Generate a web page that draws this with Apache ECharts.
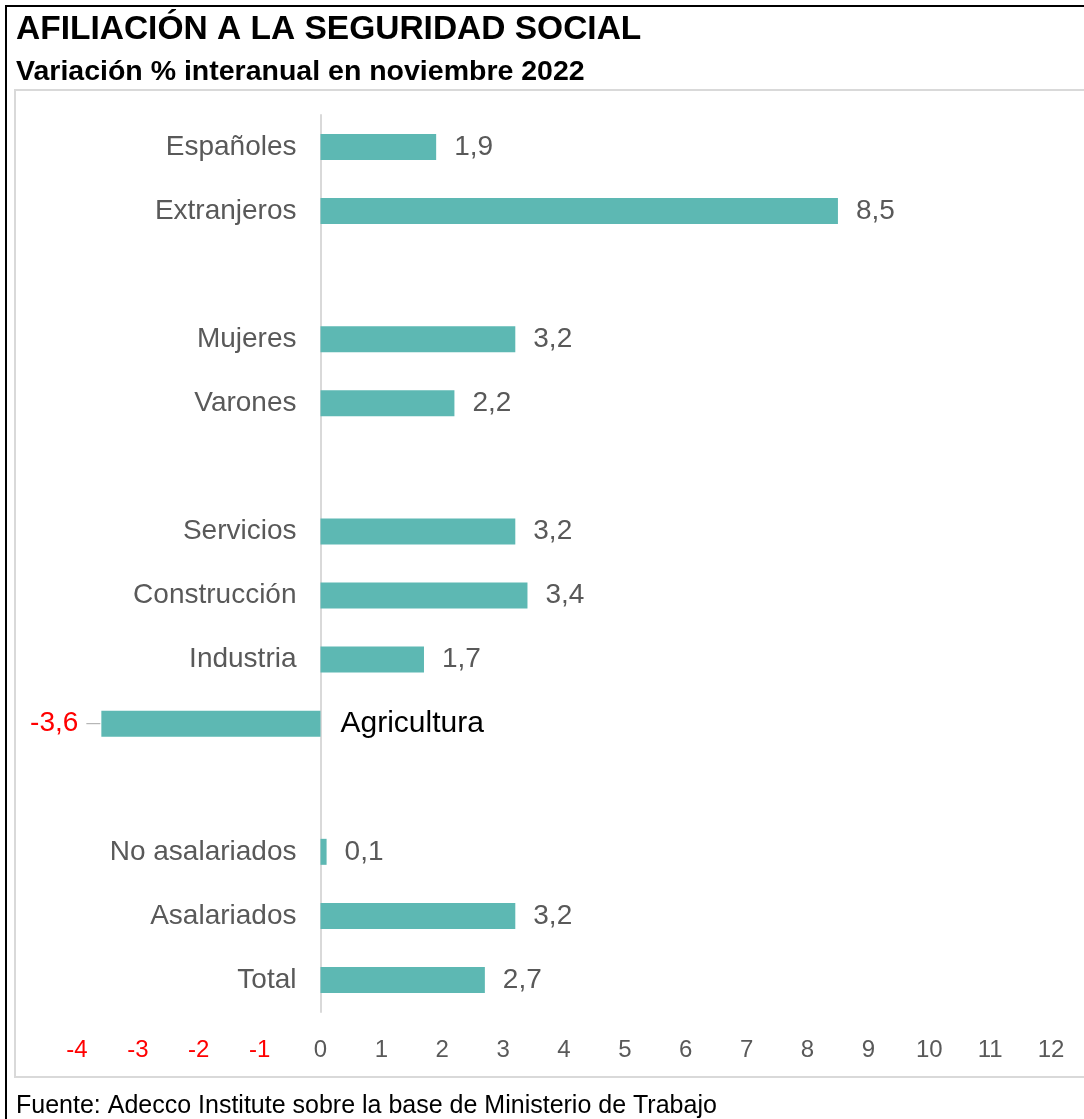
<!DOCTYPE html>
<html><head><meta charset="utf-8">
<script src="https://cdn.jsdelivr.net/npm/echarts@6/dist/echarts.min.js"></script>
<style>html,body{margin:0;padding:0;background:#fff}#c{width:1084px;height:1119px}</style>
</head><body><div id="c"></div>
<script>
const categories = ['Españoles','Extranjeros',' ','Mujeres','Varones','  ','Servicios','Construcción','Industria','Agricultura','   ','No asalariados','Asalariados','Total'];
const values = [1.9, 8.5, null, 3.2, 2.2, null, 3.2, 3.4, 1.7, -3.6, null, 0.1, 3.2, 2.7];
const xTicks = {min: -4, max: 12, interval: 1};
const titleText = 'AFILIACIÓN A LA SEGURIDAD SOCIAL';
const subtitleText = 'Variación % interanual en noviembre 2022';
const sourceText = 'Fuente: Adecco Institute sobre la base de Ministerio de Trabajo';

const FONT = '"Liberation Sans", Arial, sans-serif';
const chart = echarts.init(document.getElementById('c'));
const fmt = v => String(v).replace('.', ',');

// helper series: zero-length bars used only to anchor category names at the zero line
const nameData = categories.map((c, i) => {
  if (values[i] === null) return null;
  if (values[i] < 0) return {value: 0, label: {position: 'right', distance: 20, color: '#000', fontSize: 30}};
  return 0;
});

chart.setOption({
  animation: false,
  textStyle: {fontFamily: FONT},
  graphic: [
    {type:'rect', shape:{x:6,y:6,width:1090,height:1130}, style:{fill:'none', stroke:'#000', lineWidth:2}, silent:true},
    {type:'rect', shape:{x:15,y:90,width:1080,height:987}, style:{fill:'none', stroke:'#d9d9d9', lineWidth:2}, silent:true},
    {type:'text', left:16, top:13, style:{text:titleText, font:'bold 33.5px '+FONT, fill:'#000'}},
    {type:'text', left:16, top:58, style:{text:subtitleText, font:'bold 28.5px '+FONT, fill:'#000'}},
    {type:'text', left:16, top:1094, style:{text:sourceText, font:'25px '+FONT, fill:'#000'}}
  ],
  grid: {left: 77, right: 33, top: 115, bottom: 107, containLabel: false, outerBoundsMode: 'none'},
  xAxis: {
    type: 'value', min: xTicks.min, max: xTicks.max, interval: xTicks.interval,
    axisLine: {show: false}, axisTick: {show: false}, splitLine: {show: false},
    axisLabel: {margin: 26, fontSize: 24, color: v => v < 0 ? '#ff0000' : '#595959', formatter: v => String(v)}
  },
  yAxis: {
    type: 'category', data: categories, inverse: true,
    axisLine: {show: true, onZero: true, lineStyle: {color: '#d9d9d9', width: 2}},
    axisTick: {show: false},
    axisLabel: {show: false}
  },
  series: [{
    type: 'bar', data: values.map(v => v === null ? null : (v < 0 ? {value: v, label: {position: 'left', distance: 1,
      formatter: p => '{v|' + fmt(p.value) + '}{s|}{g|}',
      rich: {v: {fontSize: 28, color: '#ff0000', fontFamily: FONT}, s: {width: 8}, g: {width: 14, height: 1, backgroundColor: '#a6a6a6'}}}} : v)),
    barWidth: 26,
    itemStyle: {color: '#5db8b3'},
    label: {show: true, position: 'right', distance: 18, fontSize: 28, color: '#595959', formatter: p => fmt(p.value)},
    z: 3
  }, {
    type: 'bar', data: nameData, barWidth: 26, barGap: '-100%',
    itemStyle: {color: 'rgba(0,0,0,0)'},
    label: {show: true, position: 'left', distance: 24, fontSize: 28, color: '#595959', formatter: p => categories[p.dataIndex]},
    silent: true, z: 2
  }]
});
</script></body></html>
